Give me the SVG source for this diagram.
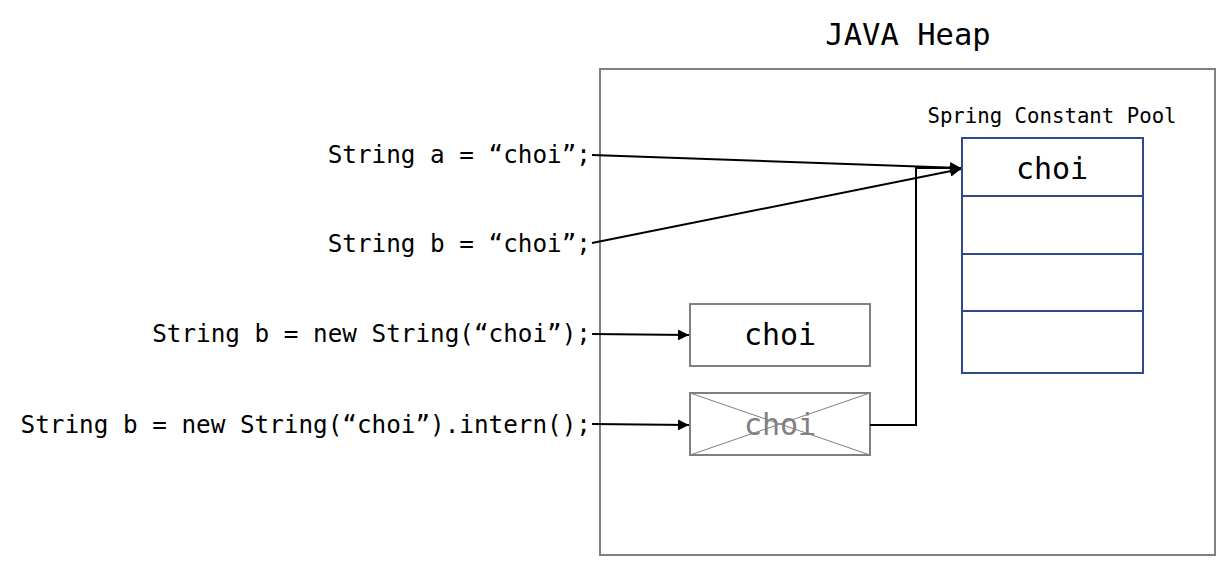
<svg xmlns="http://www.w3.org/2000/svg" width="1229" height="566" viewBox="0 0 1229 566">
<style>
text{font-family:"DejaVu Sans Mono","Liberation Mono",monospace;fill:#000}
.code{font-size:24.3px;text-anchor:end}
.box{fill:#fff;stroke:#808080;stroke-width:2}
.pool{fill:#fff;stroke:#2E4A88;stroke-width:2}
.conn{fill:none;stroke:#000;stroke-width:2}
.big{font-size:30px;text-anchor:middle}
</style>
<defs>
<marker id="ah" viewBox="0 0 10 10" refX="10" refY="5" markerWidth="6" markerHeight="5.5" orient="auto" markerUnits="strokeWidth">
<path d="M0,0 L10,5 L0,10 z" fill="#000"/>
</marker>
</defs>
<rect width="1229" height="566" fill="#fff"/>
<g id="heap">
<rect class="box" x="600" y="69" width="615" height="486"/>
<text x="908" y="45" class="big" style="font-size:30.5px">JAVA Heap</text>
</g>
<g id="pool">
<text x="1052" y="123" style="font-size:20.7px;text-anchor:middle">Spring Constant Pool</text>
<rect class="pool" x="962" y="138" width="181" height="235"/>
<line class="pool" x1="962" y1="196" x2="1143" y2="196"/>
<line class="pool" x1="962" y1="254" x2="1143" y2="254"/>
<line class="pool" x1="962" y1="311" x2="1143" y2="311"/>
<text x="1052" y="179" class="big">choi</text>
</g>
<g id="box1">
<rect class="box" x="690" y="304" width="180" height="62"/>
<text x="780" y="345" class="big">choi</text>
</g>
<g id="box2">
<rect class="box" x="690" y="393" width="180" height="62"/>
<line x1="690" y1="393" x2="870" y2="455" stroke="#808080" stroke-width="1"/>
<line x1="690" y1="455" x2="870" y2="393" stroke="#808080" stroke-width="1"/>
<text x="780" y="435" class="big" style="fill:#808080">choi</text>
</g>
<g id="labels">
<text x="591" y="163" class="code">String a = “choi”;</text>
<text x="591" y="252" class="code">String b = “choi”;</text>
<text x="591" y="342" class="code">String b = new String(“choi”);</text>
<text x="591" y="433" class="code">String b = new String(“choi”).intern();</text>
</g>
<g id="connectors">
<path class="conn" d="M592,155 L961,168" marker-end="url(#ah)"/>
<path class="conn" d="M592,243 L961,169" marker-end="url(#ah)"/>
<path class="conn" d="M592,334 L689,335" marker-end="url(#ah)"/>
<path class="conn" d="M592,424 L689,425" marker-end="url(#ah)"/>
<path class="conn" d="M870,425 H916 V168 H950"/>
</g>
</svg>
